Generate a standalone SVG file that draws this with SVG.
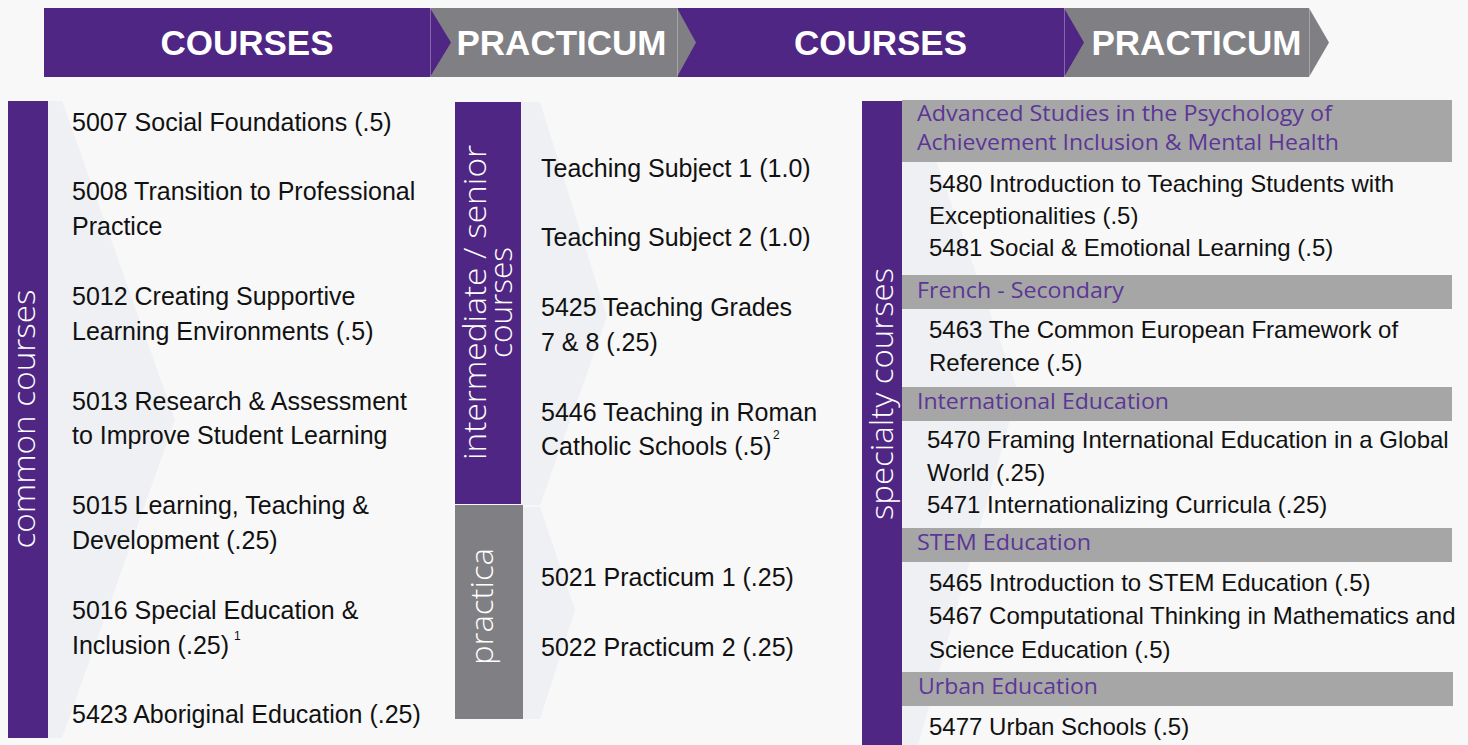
<svg xmlns="http://www.w3.org/2000/svg" width="1468" height="745" viewBox="0 0 1468 745">
<style>
.bg{fill:#f8f8f8}
.pur{fill:#4f2683}
.gry{fill:#807f83}
.hdr{fill:#a6a6a6}
.chev{fill:#eef0f3}
.tip{stroke:#ffffff;stroke-opacity:0.3;stroke-width:1}
.ban{font-family:"Liberation Sans",Arial,sans-serif;font-weight:bold;font-size:35px;fill:#ffffff;text-anchor:middle}
.lbl{font-family:"Open Sans","Noto Sans",sans-serif;font-weight:300;font-size:32px;fill:#ffffff;text-anchor:middle}
.b25{font-family:"Liberation Sans",Arial,sans-serif;font-size:25px;fill:#111111}
.b24{font-family:"Liberation Sans",Arial,sans-serif;font-size:24px;fill:#111111}
.sup{font-family:"Liberation Sans",Arial,sans-serif;font-size:12px;fill:#111111}
.ht{font-family:"Open Sans","Noto Sans",sans-serif;font-size:21px;fill:#5c3696}
</style>
<rect class="bg" x="0" y="0" width="1468" height="745"/>

<g id="banner">
  <g id="b-courses-1">
    <polygon class="pur" points="44,8 430,8 451,42.5 430,77 44,77"/>
  </g>
  <g id="b-practicum-1">
    <polygon class="gry" points="430,8 677,8 696,42.5 677,77 430,77"/>
  </g>
  <g id="b-courses-2">
    <polygon class="pur" points="677,8 1064,8 1084,42.5 1064,77 677,77"/>
  </g>
  <g id="b-practicum-2">
    <polygon class="gry" points="1064,8 1309,8 1329,42.5 1309,77 1064,77"/>
  </g>
  <polygon class="pur" points="430,8 451,42.5 430,77"/>
  <polygon class="gry" points="677,8 696,42.5 677,77"/>
  <polygon class="pur" points="1064,8 1084,42.5 1064,77"/>
  <line class="tip" x1="430.5" y1="8" x2="430.5" y2="77"/>
  <line class="tip" x1="677.5" y1="8" x2="677.5" y2="77"/>
  <line class="tip" x1="1064.5" y1="8" x2="1064.5" y2="77"/>
  <line class="tip" x1="1309.5" y1="8" x2="1309.5" y2="77"/>
  <text class="ban" x="247" y="55">COURSES</text>
  <text class="ban" x="561.5" y="55">PRACTICUM</text>
  <text class="ban" x="880.5" y="55">COURSES</text>
  <text class="ban" x="1196.5" y="55">PRACTICUM</text>
</g>

<g id="common-courses">
  <polygon class="chev" points="48,101 62,101 175,420 62,738 48,738"/>
  <rect class="pur" x="8" y="101" width="40" height="637"/>
  <text class="lbl" transform="translate(35,419) rotate(-90)" textLength="259" lengthAdjust="spacingAndGlyphs">common courses</text>
  <text class="b25" x="72" y="131">5007 Social Foundations (.5)</text>
  <text class="b25" x="72" y="200">5008 Transition to Professional</text>
  <text class="b25" x="72" y="235">Practice</text>
  <text class="b25" x="72" y="305">5012 Creating Supportive</text>
  <text class="b25" x="72" y="340">Learning Environments (.5)</text>
  <text class="b25" x="72" y="410">5013 Research &amp; Assessment</text>
  <text class="b25" x="72" y="444">to Improve Student Learning</text>
  <text class="b25" x="72" y="514">5015 Learning, Teaching &amp;</text>
  <text class="b25" x="72" y="549">Development (.25)</text>
  <text class="b25" x="72" y="619">5016 Special Education &amp;</text>
  <text class="b25" x="72" y="654">Inclusion (.25)</text>
  <text class="sup" x="234" y="640">1</text>
  <text class="b25" x="72" y="723">5423 Aboriginal Education (.25)</text>
</g>

<g id="intermediate-senior-courses">
  <polygon class="chev" points="521,102 540,102 607,317 540,505 521,505"/>
  <rect class="pur" x="455" y="102" width="66" height="402"/>
  <text class="lbl" transform="translate(486,302.5) rotate(-90)" textLength="315" lengthAdjust="spacingAndGlyphs">intermediate / senior</text>
  <text class="lbl" transform="translate(512,302.5) rotate(-90)" textLength="111" lengthAdjust="spacingAndGlyphs">courses</text>
  <text class="b25" x="541" y="177">Teaching Subject 1 (1.0)</text>
  <text class="b25" x="541" y="246">Teaching Subject 2 (1.0)</text>
  <text class="b25" x="541" y="316">5425 Teaching Grades</text>
  <text class="b25" x="541" y="351">7 &amp; 8 (.25)</text>
  <text class="b25" x="541" y="421">5446 Teaching in Roman</text>
  <text class="b25" x="541" y="455">Catholic Schools (.5)</text>
  <text class="sup" x="773" y="439">2</text>
</g>

<g id="practica">
  <polygon class="chev" points="523,507 540,507 575,610 540,719 523,719"/>
  <rect class="gry" x="455" y="505" width="68" height="214"/>
  <text class="lbl" transform="translate(493,606.5) rotate(-90)" textLength="117" lengthAdjust="spacingAndGlyphs">practica</text>
  <text class="b25" x="541" y="586">5021 Practicum 1 (.25)</text>
  <text class="b25" x="541" y="656">5022 Practicum 2 (.25)</text>
</g>

<g id="specialty-courses">
  <polygon class="chev" points="902,101 915,101 1018,392 918,745 902,745"/>
  <rect class="pur" x="862" y="101" width="40" height="644"/>
  <text class="lbl" transform="translate(893,394) rotate(-90)" textLength="252" lengthAdjust="spacingAndGlyphs">specialty courses</text>

  <g id="spec-advanced">
    <rect class="hdr" x="902" y="100" width="550" height="62"/>
    <text class="ht" x="917" y="121" textLength="415" lengthAdjust="spacingAndGlyphs">Advanced Studies in the Psychology of</text>
    <text class="ht" x="917" y="150" textLength="422" lengthAdjust="spacingAndGlyphs">Achievement Inclusion &amp; Mental Health</text>
    <text class="b24" x="929" y="192">5480 Introduction to Teaching Students with</text>
    <text class="b24" x="929" y="224">Exceptionalities (.5)</text>
    <text class="b24" x="929" y="256">5481 Social &amp; Emotional Learning (.5)</text>
  </g>
  <g id="spec-french">
    <rect class="hdr" x="902" y="275" width="550" height="34"/>
    <text class="ht" x="917" y="298" textLength="207" lengthAdjust="spacingAndGlyphs">French - Secondary</text>
    <text class="b24" x="929" y="338">5463 The Common European Framework of</text>
    <text class="b24" x="929" y="371">Reference (.5)</text>
  </g>
  <g id="spec-international">
    <rect class="hdr" x="902" y="387" width="550" height="34"/>
    <text class="ht" x="917" y="409" textLength="252" lengthAdjust="spacingAndGlyphs">International Education</text>
    <text class="b24" x="927" y="448">5470 Framing International Education in a Global</text>
    <text class="b24" x="927" y="481">World (.25)</text>
    <text class="b24" x="927" y="513">5471 Internationalizing Curricula (.25)</text>
  </g>
  <g id="spec-stem">
    <rect class="hdr" x="902" y="528" width="550" height="34"/>
    <text class="ht" x="917" y="550" textLength="174" lengthAdjust="spacingAndGlyphs">STEM Education</text>
    <text class="b24" x="929" y="591">5465 Introduction to STEM Education (.5)</text>
    <text class="b24" x="929" y="624">5467 Computational Thinking in Mathematics and</text>
    <text class="b24" x="929" y="658">Science Education (.5)</text>
  </g>
  <g id="spec-urban">
    <rect class="hdr" x="902" y="672" width="551" height="34"/>
    <text class="ht" x="918" y="694" textLength="180" lengthAdjust="spacingAndGlyphs">Urban Education</text>
    <text class="b24" x="929" y="735">5477 Urban Schools (.5)</text>
  </g>
</g>

<g id="connectors"></g>
</svg>
